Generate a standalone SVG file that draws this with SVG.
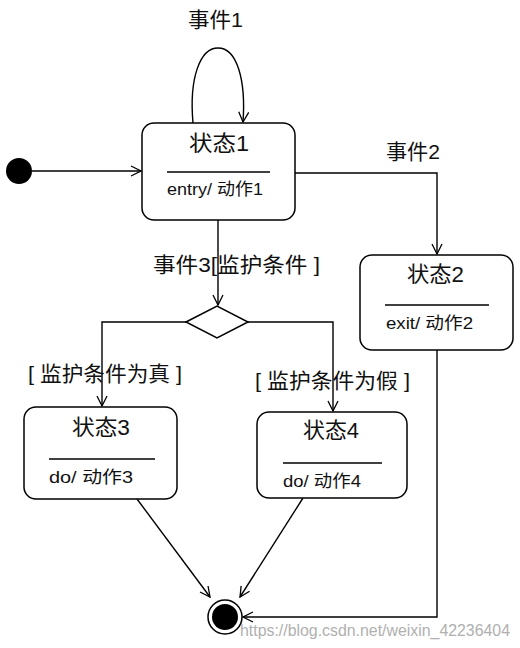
<svg xmlns="http://www.w3.org/2000/svg" width="520" height="648" viewBox="0 0 520 648">
<defs>
<marker id="arr" viewBox="0 0 12 12" refX="11" refY="6" markerWidth="12" markerHeight="12" markerUnits="userSpaceOnUse" orient="auto">
<path d="M1,1 L11,6 L1,11" fill="none" stroke="#000" stroke-width="1.3"/>
</marker>
<style>
.box{fill:#fff;stroke:#000;stroke-width:1.5}
.ln{fill:none;stroke:#000;stroke-width:1.4}
.t{font-family:"Liberation Sans","Noto Sans CJK SC",sans-serif;fill:#111}
.title{font-size:22px}
.act{font-size:17px}
.lbl{font-size:21px}
</style>
</defs>
<rect width="520" height="648" fill="#fff"/>
<g id="connectors">
<line class="ln" x1="32" y1="171" x2="141" y2="171" marker-end="url(#arr)"/>
<path class="ln" d="M193,123 C189,78 200,48 218,48 C237,48 246,80 243,122" marker-end="url(#arr)"/>
<polyline class="ln" points="295,173 437,173 437,254" marker-end="url(#arr)"/>
<line class="ln" x1="218" y1="220" x2="218" y2="305" marker-end="url(#arr)"/>
<polyline class="ln" points="186,322 102,322 102,406" marker-end="url(#arr)"/>
<polyline class="ln" points="248,322 333,322 333,411" marker-end="url(#arr)"/>
<line class="ln" x1="137" y1="499" x2="210" y2="597" marker-end="url(#arr)"/>
<line class="ln" x1="303" y1="498" x2="240" y2="597" marker-end="url(#arr)"/>
<polyline class="ln" points="437,350 437,617 243,617" marker-end="url(#arr)"/>
<text class="t lbl" x="188" y="27" textLength="55" lengthAdjust="spacingAndGlyphs">事件1</text>
<text class="t lbl" x="386" y="159" textLength="54" lengthAdjust="spacingAndGlyphs">事件2</text>
<text class="t lbl" x="153" y="272" textLength="167" lengthAdjust="spacingAndGlyphs">事件3[监护条件 ]</text>
<text class="t lbl" x="28" y="381" textLength="154" lengthAdjust="spacingAndGlyphs">[ 监护条件为真 ]</text>
<text class="t lbl" x="255" y="388" textLength="155" lengthAdjust="spacingAndGlyphs">[ 监护条件为假 ]</text>
</g>
<g id="initial">
<circle cx="19" cy="171" r="13" fill="#000"/>
</g>
<g id="state1">
<rect class="box" x="142" y="123" width="153" height="97" rx="12"/>
<text class="t title" x="189" y="151" textLength="60" lengthAdjust="spacingAndGlyphs">状态1</text>
<line class="ln" x1="167" y1="172" x2="270" y2="172"/>
<text class="t act" x="167" y="195" textLength="96" lengthAdjust="spacingAndGlyphs">entry/ 动作1</text>
</g>
<g id="state2">
<rect class="box" x="360" y="255" width="153" height="95" rx="12"/>
<text class="t title" x="407" y="282" textLength="57" lengthAdjust="spacingAndGlyphs">状态2</text>
<line class="ln" x1="385" y1="305" x2="489" y2="305"/>
<text class="t act" x="386" y="329" textLength="87" lengthAdjust="spacingAndGlyphs">exit/ 动作2</text>
</g>
<g id="decision">
<polygon class="box" points="186,322 217,306 248,322 217,338"/>
</g>
<g id="state3">
<rect class="box" x="24" y="407" width="153" height="92" rx="12"/>
<text class="t title" x="72" y="435" textLength="58" lengthAdjust="spacingAndGlyphs">状态3</text>
<line class="ln" x1="49" y1="459" x2="155" y2="459"/>
<text class="t act" x="49" y="483" textLength="84" lengthAdjust="spacingAndGlyphs">do/ 动作3</text>
</g>
<g id="state4">
<rect class="box" x="257" y="412" width="150" height="86" rx="12"/>
<text class="t title" x="303" y="438" textLength="56" lengthAdjust="spacingAndGlyphs">状态4</text>
<line class="ln" x1="283" y1="463" x2="382" y2="463"/>
<text class="t act" x="283" y="487" textLength="78" lengthAdjust="spacingAndGlyphs">do/ 动作4</text>
</g>
<g id="final">
<circle cx="225" cy="617" r="17" fill="#fff" stroke="#000" stroke-width="1.5"/>
<circle cx="225" cy="617" r="13" fill="#000"/>
</g>
<text class="t" x="240" y="636" font-size="16" style="fill:#b0b0b0" textLength="270" lengthAdjust="spacingAndGlyphs">https://blog.csdn.net/weixin_42236404</text>
</svg>
